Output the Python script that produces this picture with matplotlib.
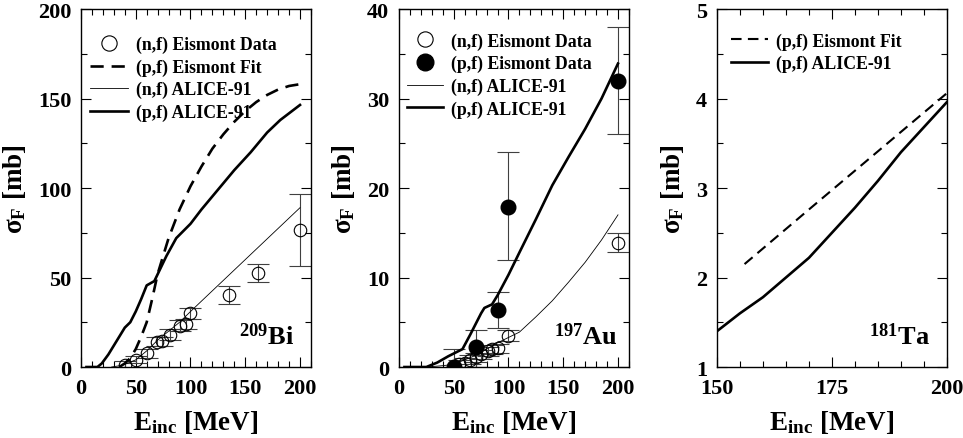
import numpy as np
import matplotlib
matplotlib.use('Agg')
import matplotlib.pyplot as plt
from matplotlib.ticker import MultipleLocator
from matplotlib.lines import Line2D

plt.rcParams['font.family'] = 'Liberation Serif'
plt.rcParams['font.weight'] = 'bold'
plt.rcParams['axes.labelweight'] = 'bold'
plt.rcParams['mathtext.fontset'] = 'custom'
plt.rcParams['mathtext.rm'] = 'Liberation Serif:weight=bold'
plt.rcParams['mathtext.it'] = 'Liberation Serif:weight=bold'
plt.rcParams['mathtext.bf'] = 'Liberation Serif:weight=bold'
plt.rcParams['mathtext.default'] = 'bf'

# --- 209Bi ---
bi_nf_x = [40, 50, 60, 69, 74, 81, 90, 96, 100, 135, 162, 200]
bi_nf_y = [1.3, 4, 7.8, 14, 14.3, 18, 23, 24, 30, 40, 52.6, 76.6]
bi_nf_err = [2, 2, 2.5, 2.5, 2.5, 3, 3, 3, 3, 5, 5, 20]

bi_fit_x = [35, 40, 45, 50, 55, 60, 65, 70, 80, 90, 100, 110, 120, 130, 140, 150, 160, 170, 180, 190, 200]
bi_fit_y = [0, 2, 5, 10, 17, 25, 38, 52, 72, 88, 101, 112, 122, 130, 137, 143, 148, 152, 155, 157, 158]

bi_alp_x = [5, 15, 19, 25, 30, 35, 40, 45, 50, 55, 60, 67, 78, 87, 100, 110, 125, 140, 155, 170, 182, 200]
bi_alp_y = [0, 0, 2, 7, 12, 17, 22, 25, 31, 38, 45.6, 48, 62, 72, 80, 88, 99, 110, 120, 131, 138, 146.4]

bi_aln_x = [28, 35, 40, 50, 60, 70, 80, 90, 100, 150, 200]
bi_aln_y = [0, 0.7, 1.5, 4, 9, 15, 20, 25, 31, 60, 89]

# --- 197Au ---
au_pf_x = [50, 70, 90, 100, 200]
au_pf_y = [0, 2.2, 6.4, 17.9, 32]
au_pf_lo = [0, 2.2, 2.0, 5.9, 6]
au_pf_hi = [2, 1.9, 2.0, 6.1, 6]

au_nf_x = [55, 60, 65, 70, 75, 81, 85, 90, 100, 200]
au_nf_y = [0.3, 0.5, 0.8, 1.1, 1.4, 1.75, 2.0, 2.1, 3.5, 13.9]
au_nf_err = [0.5, 0.5, 0.5, 0.5, 0.5, 0.5, 0.5, 0.5, 0.6, 1.1]

au_alp_x = [5, 25, 35, 45, 58, 65, 70, 75, 78, 85, 90, 100, 110, 125, 140, 155, 170, 185, 200]
au_alp_y = [0, 0, 0.5, 1.2, 2.0, 3.6, 4.8, 6.0, 6.6, 7.0, 8.0, 10.3, 12.8, 16.5, 20.3, 23.5, 26.6, 30.0, 33.9]

au_aln_x = [20, 30, 40, 50, 60, 70, 80, 90, 100, 110, 125, 140, 155, 170, 185, 200]
au_aln_y = [0, 0.05, 0.15, 0.3, 0.8, 1.3, 2.0, 2.7, 3.3, 3.9, 5.6, 7.4, 9.5, 11.7, 14.2, 17.0]

# --- 181Ta ---
ta_fit_x = [156, 170, 185, 200]
ta_fit_y = [2.15, 2.76, 3.41, 4.06]

ta_alp_x = [150, 155, 160, 165, 170, 175, 180, 185, 190, 195, 200]
ta_alp_y = [1.40, 1.6, 1.78, 2.0, 2.22, 2.5, 2.78, 3.08, 3.4, 3.68, 3.96]

fig = plt.figure(figsize=(9.63, 4.39), dpi=100)
w, h, b = 0.2388, 0.8155, 0.1617
ax1 = fig.add_axes([0.0841, b, w, h])
ax2 = fig.add_axes([0.4143, b, w, h])
ax3 = fig.add_axes([0.7445, b, w, h])

thick = 1.9
thin = 0.6
dash = (0, (5, 3))
ebkw = dict(ecolor='0.25', elinewidth=0.8, capsize=8, capthick=0.8)

open_h = Line2D([], [], ls='none', marker='o', mfc='none', mec='black', mew=0.8, ms=11)
fill_h = Line2D([], [], ls='none', marker='o', mfc='black', mec='black', ms=12)
dash_h = Line2D([], [], color='black', lw=thick, ls=dash)
thin_h = Line2D([], [], color='black', lw=thin)
thick_h = Line2D([], [], color='black', lw=thick)
legkw = dict(loc='upper left', frameon=False, fontsize=12.8, handletextpad=0.45,
             labelspacing=0.3, borderpad=0, borderaxespad=0)

# panel 1
ax1.errorbar(bi_nf_x, bi_nf_y, yerr=bi_nf_err, fmt='o', mfc='none', mec='black',
             mew=0.8, ms=9, **ebkw)
ax1.plot(bi_fit_x, bi_fit_y, color='black', lw=thick, ls=dash)
ax1.plot(bi_aln_x, bi_aln_y, color='black', lw=thin)
ax1.plot(bi_alp_x, bi_alp_y, color='black', lw=thick)
ax1.set_xlim(0, 210)
ax1.set_ylim(0, 200)
ax1.xaxis.set_major_locator(MultipleLocator(50))
ax1.xaxis.set_minor_locator(MultipleLocator(10))
ax1.yaxis.set_major_locator(MultipleLocator(50))
ax1.yaxis.set_minor_locator(MultipleLocator(25))
ax1.text(144, 13, '$^{209}$Bi', fontsize=19)
ax1.legend([open_h, dash_h, thin_h, thick_h],
           ['(n,f) Eismont Data', '(p,f) Eismont Fit', '(n,f) ALICE-91', '(p,f) ALICE-91'],
           bbox_to_anchor=(0.04, 0.925), handlelength=2.1, **legkw)

# panel 2
ax2.errorbar(au_nf_x, au_nf_y, yerr=au_nf_err, fmt='o', mfc='none', mec='black',
             mew=0.8, ms=9, **ebkw)
ax2.errorbar(au_pf_x, au_pf_y, yerr=[au_pf_lo, au_pf_hi], fmt='o', mfc='black', mec='black',
             ms=10.5, **ebkw)
ax2.plot(au_aln_x, au_aln_y, color='black', lw=thin)
ax2.plot(au_alp_x, au_alp_y, color='black', lw=thick)
ax2.set_xlim(0, 210)
ax2.set_ylim(0, 40)
ax2.xaxis.set_major_locator(MultipleLocator(50))
ax2.xaxis.set_minor_locator(MultipleLocator(10))
ax2.yaxis.set_major_locator(MultipleLocator(10))
ax2.yaxis.set_minor_locator(MultipleLocator(5))
ax2.text(142, 2.6, '$^{197}$Au', fontsize=19)
ax2.legend([open_h, fill_h, thin_h, thick_h],
           ['(n,f) Eismont Data', '(p,f) Eismont Data', '(n,f) ALICE-91', '(p,f) ALICE-91'],
           bbox_to_anchor=(0.035, 0.935), handlelength=2.0, **legkw)

# panel 3
ax3.plot(ta_fit_x, ta_fit_y, color='black', lw=thick * 0.8, ls=dash)
ax3.plot(ta_alp_x, ta_alp_y, color='black', lw=thick)
ax3.set_xlim(150, 200)
ax3.set_ylim(1, 5)
ax3.xaxis.set_major_locator(MultipleLocator(25))
ax3.xaxis.set_minor_locator(MultipleLocator(5))
ax3.yaxis.set_major_locator(MultipleLocator(1))
ax3.yaxis.set_minor_locator(MultipleLocator(0.5))
ax3.text(183, 1.26, '$^{181}$Ta', fontsize=19)
ax3.legend([Line2D([], [], color='black', lw=thick * 0.8, ls=dash), thick_h],
           ['(p,f) Eismont Fit', '(p,f) ALICE-91'],
           bbox_to_anchor=(0.06, 0.935), handlelength=2.1, **legkw)

for ax in (ax1, ax2, ax3):
    ax.tick_params(which='both', direction='in', top=True, right=True, labelsize=16)
    ax.tick_params(axis='x', which='major', pad=8)
    ax.tick_params(axis='y', which='major', pad=7)
    ax.tick_params(which='major', length=7, width=0.8)
    ax.tick_params(which='minor', length=4, width=0.8)
    for s in ax.spines.values():
        s.set_linewidth(1.0)
    ax.set_xlabel('E$_{inc}$ [MeV]', fontsize=19.5, labelpad=7)
    ax.set_ylabel('σ$_F$ [mb]', fontsize=19.5, labelpad=7)

fig.savefig('out.png', dpi=100)
